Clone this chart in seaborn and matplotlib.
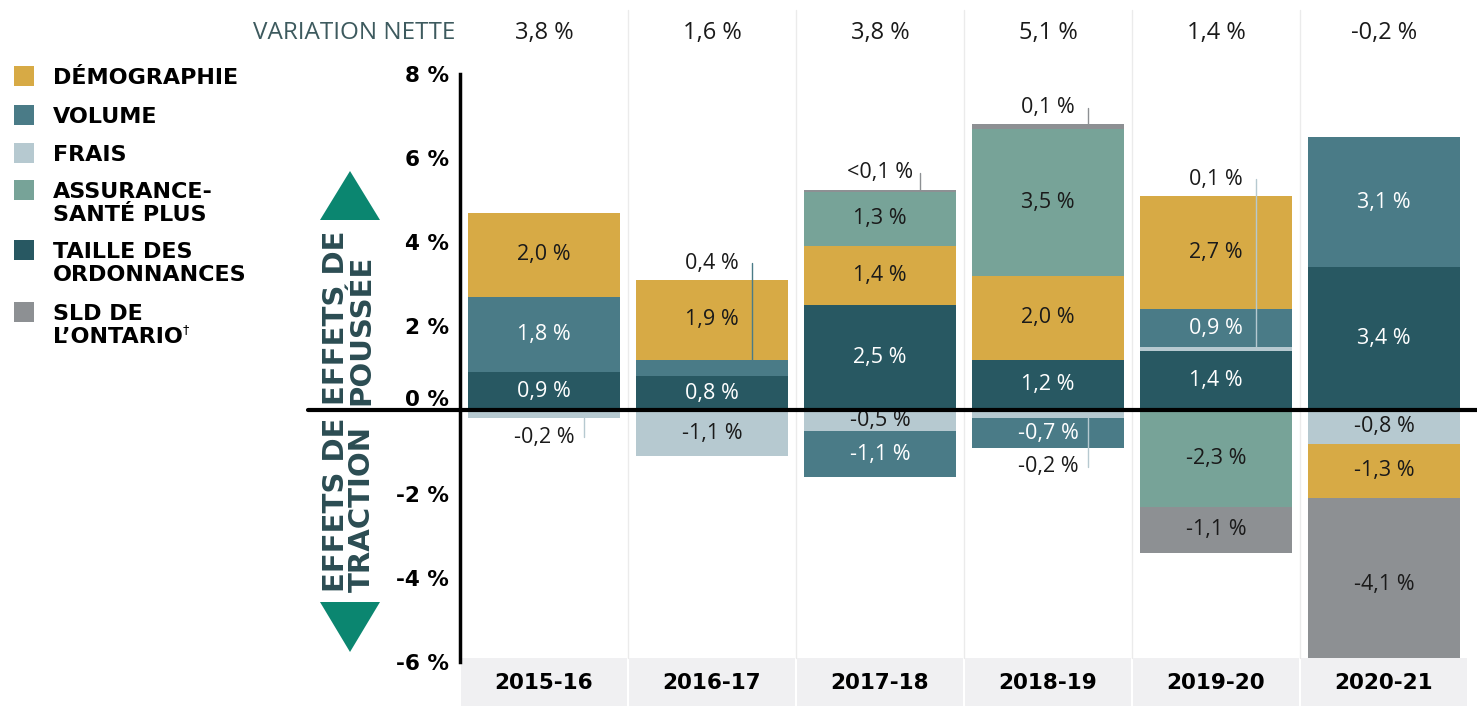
import matplotlib
matplotlib.use("Agg")
import matplotlib.pyplot as plt
from matplotlib.patches import Rectangle, Polygon
from matplotlib.transforms import blended_transform_factory
import numpy as np
import pandas as pd
import seaborn as sns

years = ["2015-16", "2016-17", "2017-18", "2018-19", "2019-20", "2020-21"]
net_change = [3.8, 1.6, 3.8, 5.1, 1.4, -0.2]

# contributions (%), stacked in this order: up for positive, down for negative
taille = [0.9, 0.8, 2.5, 1.2, 1.4, 3.4]
frais = [-0.2, -1.1, -0.5, -0.2, 0.1, -0.8]
volume = [1.8, 0.4, -1.1, -0.7, 0.9, 3.1]
demographie = [2.0, 1.9, 1.4, 2.0, 2.7, -1.3]
assurance = [0.0, 0.0, 1.3, 3.5, -2.3, 0.0]
sld = [0.0, 0.0, 0.05, 0.1, -1.1, -4.1]

stack_order = ["taille", "frais", "volume", "demographie", "assurance", "sld"]
series = {
    "taille": taille,
    "frais": frais,
    "volume": volume,
    "demographie": demographie,
    "assurance": assurance,
    "sld": sld,
}
colors = {
    "demographie": "#D7AA45",
    "volume": "#4A7B87",
    "frais": "#B6C9D0",
    "assurance": "#77A398",
    "taille": "#285862",
    "sld": "#8D9093",
}
text_on = {"taille": "white", "volume": "white"}

legend_keys = ["demographie", "volume", "frais", "assurance", "taille", "sld"]
legend_labels = [["DÉMOGRAPHIE"], ["VOLUME"], ["FRAIS"], ["ASSURANCE-", "SANTÉ PLUS"],
                 ["TAILLE DES", "ORDONNANCES"], ["SLD DE", "L’ONTARIO"]]
yticks = [8, 6, 4, 2, 0, -2, -4, -6]

W, H = 1477, 718
HEAVY = "DejaVu Sans"


def px(x, y):
    return x / W, 1 - y / H


def fmt(v):
    if 0 < abs(v) < 0.1:
        return "<0,1 %"
    return f"{v:.1f}".replace(".", ",") + " %"


sns.set_theme(style="white")
plt.rcParams["font.family"] = ["Open Sans", "DejaVu Sans"]

fig = plt.figure(figsize=(W / 100, H / 100), dpi=100)
ax = fig.add_axes([460 / W, 56 / H, 1008 / W, 588 / H])

pos_base = np.zeros(len(years))
neg_base = np.zeros(len(years))
segments = []
for name in stack_order:
    vals = np.array(series[name], dtype=float)
    pos = np.where(vals > 0, vals, 0.0)
    neg = np.where(vals < 0, vals, 0.0)
    for part, base in ((pos, pos_base), (neg, neg_base)):
        df = pd.DataFrame({"year": years, "value": part})
        sns.barplot(data=df, x="year", y="value", bottom=base.copy(), color=colors[name],
                    saturation=1, width=0.91, errorbar=None, linewidth=0, ax=ax)
    for i, v in enumerate(vals):
        if v > 0:
            segments.append((i, name, v, pos_base[i]))
        elif v < 0:
            segments.append((i, name, v, neg_base[i]))
    pos_base = pos_base + pos
    neg_base = neg_base + neg

ax.set_xlim(-0.5, 5.5)
ax.set_ylim(-6, 8)
ax.set_xlabel("")
ax.set_ylabel("")
ax.set_xticks([])
ax.set_yticks(yticks)
ax.set_yticklabels([f"{t} %" for t in yticks], fontfamily=HEAVY, fontweight="bold", fontsize=15.5)
for lab in ax.get_yticklabels():
    if lab.get_text() == "0 %":
        lab.set_va("bottom")
ax.tick_params(axis="y", length=0, pad=8, colors="black")
sns.despine(ax=ax, top=True, right=True, bottom=True)
ax.spines["left"].set_color("black")
ax.spines["left"].set_linewidth(2.5)

# segment labels
for i, name, v, base in segments:
    if abs(v) >= 0.45:
        ax.text(i, base + v / 2, fmt(v), ha="center", va="center", fontsize=15.5,
                color=text_on.get(name, "#1a1a1a"), zorder=5)
    else:
        if v > 0:
            ly = pos_base[i] + 0.4
        else:
            ly = neg_base[i] - 0.45
        ax.text(i, ly, fmt(v), ha="center", va="center", fontsize=15.5, color="#1a1a1a", zorder=5)
        ax.plot([i + 0.24, i + 0.24], [base + v, ly], color=colors[name], lw=1, zorder=4)

# zero line
zl = blended_transform_factory(ax.transAxes, ax.transData)
ax.plot([(308 - 460) / 1008, (1477 - 460) / 1008], [0, 0], transform=zl, color="black",
        lw=3, clip_on=False, zorder=6)

# column separators, net change row and year band
xf = blended_transform_factory(ax.transData, fig.transFigure)
for b in np.arange(0.5, len(years) - 0.5, 1):
    ax.plot([b, b], [1 - 10 / H, 1 - 658 / H], transform=xf, color="#EBEBEB", lw=1,
            clip_on=False, zorder=0)
for i, (yr, nc) in enumerate(zip(years, net_change)):
    ax.text(i, 1 - 33 / H, fmt(nc), transform=xf, ha="center", va="center", fontsize=17,
            color="#1a1a1a")
    ax.add_patch(Rectangle((i - 0.497, 1 - 706 / H), 0.994, 48 / H, transform=xf,
                           facecolor="#F0F0F2", edgecolor="none", clip_on=False))
    ax.text(i, 1 - 683 / H, yr, transform=xf, ha="center", va="center", fontsize=15.5,
            fontfamily=HEAVY, fontweight="bold", color="black")

fig.text(*px(455, 33), "VARIATION NETTE", ha="right", va="center", fontsize=17.5,
         color="#3D5A5E")

# legend
rows = [76, 115, 153, 190, 250, 312]
for key, lines, ry in zip(legend_keys, legend_labels, rows):
    fig.patches.append(Rectangle(px(14, ry + 10), 20 / W, 20 / H, transform=fig.transFigure,
                                 facecolor=colors[key], edgecolor="none"))
    for k, line in enumerate(lines):
        t = fig.text(*px(53, ry + 8 + 23 * k), line, ha="left", va="baseline", fontsize=16,
                     fontfamily=HEAVY, fontweight="bold", color="black")
ax.annotate("†", xy=(1.0, 0.55), xycoords=t, fontsize=9, ha="left", va="bottom",
            fontfamily="DejaVu Sans", color="black")

# push / pull side labels and arrows
tri = "#0B8670"
fig.patches.append(Polygon([px(350, 171), px(320, 220), px(380, 220)], closed=True,
                           transform=fig.transFigure, facecolor=tri, edgecolor="none"))
fig.patches.append(Polygon([px(320, 602), px(380, 602), px(350, 652)], closed=True,
                           transform=fig.transFigure, facecolor=tri, edgecolor="none"))
fig.text(*px(349, 405), "EFFETS DE\nPOUSSÉE", rotation=90, ha="center", va="bottom",
         multialignment="left", fontsize=21, fontfamily=HEAVY, fontweight="bold",
         color="#2B4C52", linespacing=0.88)
fig.text(*px(349, 592), "EFFETS DE\nTRACTION", rotation=90, ha="center", va="bottom",
         multialignment="left", fontsize=21, fontfamily=HEAVY, fontweight="bold",
         color="#2B4C52", linespacing=0.88)

fig.savefig("out.png", dpi=100)
